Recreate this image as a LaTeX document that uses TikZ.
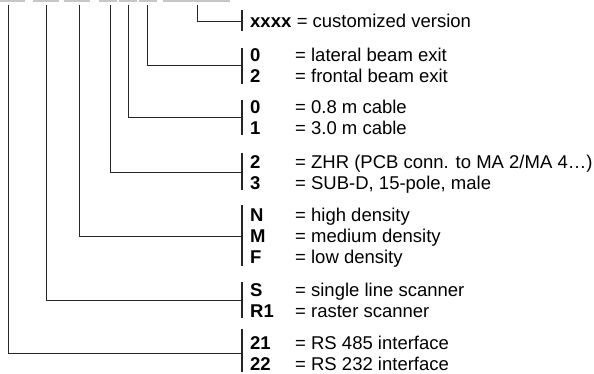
\documentclass[tikz,border=0pt]{standalone}
\usepackage{fontspec}
\setmainfont{Liberation Sans}
\begin{document}
\begin{tikzpicture}[x=1bp,y=-1bp,
  lbl/.style={inner sep=0pt,anchor=base west,font=\fontsize{18.5bp}{21bp}\selectfont},
  code/.style={lbl,font=\fontsize{18.5bp}{21bp}\selectfont\bfseries},
  conn/.style={line width=0.9bp,draw=black!85},
  barline/.style={line width=2.2bp,draw=black!85},
  topbar/.style={fill=black!22,draw=none}]
\useasboundingbox (0,0) rectangle (594,373);
% gray segments at the top
\fill[topbar] (0,0) rectangle (24.5,2);
\fill[topbar] (33,0) rectangle (58.5,2);
\fill[topbar] (64,0) rectangle (89.5,2);
\fill[topbar] (99,0) rectangle (117,2);
\fill[topbar] (119,0) rectangle (136.5,2);
\fill[topbar] (139,0) rectangle (157,2);
\fill[topbar] (163,0) rectangle (230,2);
% top ends of connectors
\coordinate (t1) at (8,5);
\coordinate (t2) at (46,5);
\coordinate (t3) at (79,5);
\coordinate (t4) at (110,5);
\coordinate (t5) at (128,5);
\coordinate (t6) at (147,5);
\coordinate (t7) at (197,5);
% bracket bars
\coordinate (b7a) at (242,10);  \coordinate (b7b) at (242,31);  \coordinate (b7) at (242,21);
\coordinate (b6a) at (242,48);  \coordinate (b6b) at (242,84);  \coordinate (b6) at (242,65);
\coordinate (b5a) at (242,100); \coordinate (b5b) at (242,135); \coordinate (b5) at (242,117);
\coordinate (b4a) at (242,153); \coordinate (b4b) at (242,190); \coordinate (b4) at (242,172);
\coordinate (b3a) at (242,205); \coordinate (b3b) at (242,266); \coordinate (b3) at (242,236);
\coordinate (b2a) at (242,282); \coordinate (b2b) at (242,318); \coordinate (b2) at (242,300);
\coordinate (b1a) at (242,329); \coordinate (b1b) at (242,372); \coordinate (b1) at (242,353);
\foreach \i in {1,...,7} {
  \draw[barline] (b\i a) -- (b\i b);
  \draw[conn] (t\i) |- (b\i);
}
% texts
\node[code] (cx) at (250,27) {xxxx};
\node[lbl] (dx) at ([xshift=5bp]cx.base east) {= customized version};
\node[code] (c6a) at (250,61) {0};   \node[lbl] (d6a) at (295,61) {= lateral beam exit};
\node[code] (c6b) at (250,82) {2};   \node[lbl] (d6b) at (295,82) {= frontal beam exit};
\node[code] (c5a) at (250,113) {0};  \node[lbl] (d5a) at (295,113) {= 0.8 m cable};
\node[code] (c5b) at (250,134) {1};  \node[lbl] (d5b) at (295,134) {= 3.0 m cable};
\node[code] (c4a) at (250,168) {2};  \node[lbl] (d4a) at (295,168) {= ZHR (PCB conn. to MA 2/MA 4…)};
\node[code] (c4b) at (250,189) {3};  \node[lbl] (d4b) at (295,189) {= SUB-D, 15-pole, male};
\node[code] (c3a) at (250,221) {N};  \node[lbl] (d3a) at (295,221) {= high density};
\node[code] (c3b) at (250,242) {M};  \node[lbl] (d3b) at (295,242) {= medium density};
\node[code] (c3c) at (250,263) {F};  \node[lbl] (d3c) at (295,263) {= low density};
\node[code] (c2a) at (250,296) {S};  \node[lbl] (d2a) at (295,296) {= single line scanner};
\node[code] (c2b) at (250,317) {R1}; \node[lbl] (d2b) at (295,317) {= raster scanner};
\node[code] (c1a) at (250,349) {21}; \node[lbl] (d1a) at (295,349) {= RS 485 interface};
\node[code] (c1b) at (250,370) {22}; \node[lbl] (d1b) at (295,370) {= RS 232 interface};
\end{tikzpicture}
\end{document}
